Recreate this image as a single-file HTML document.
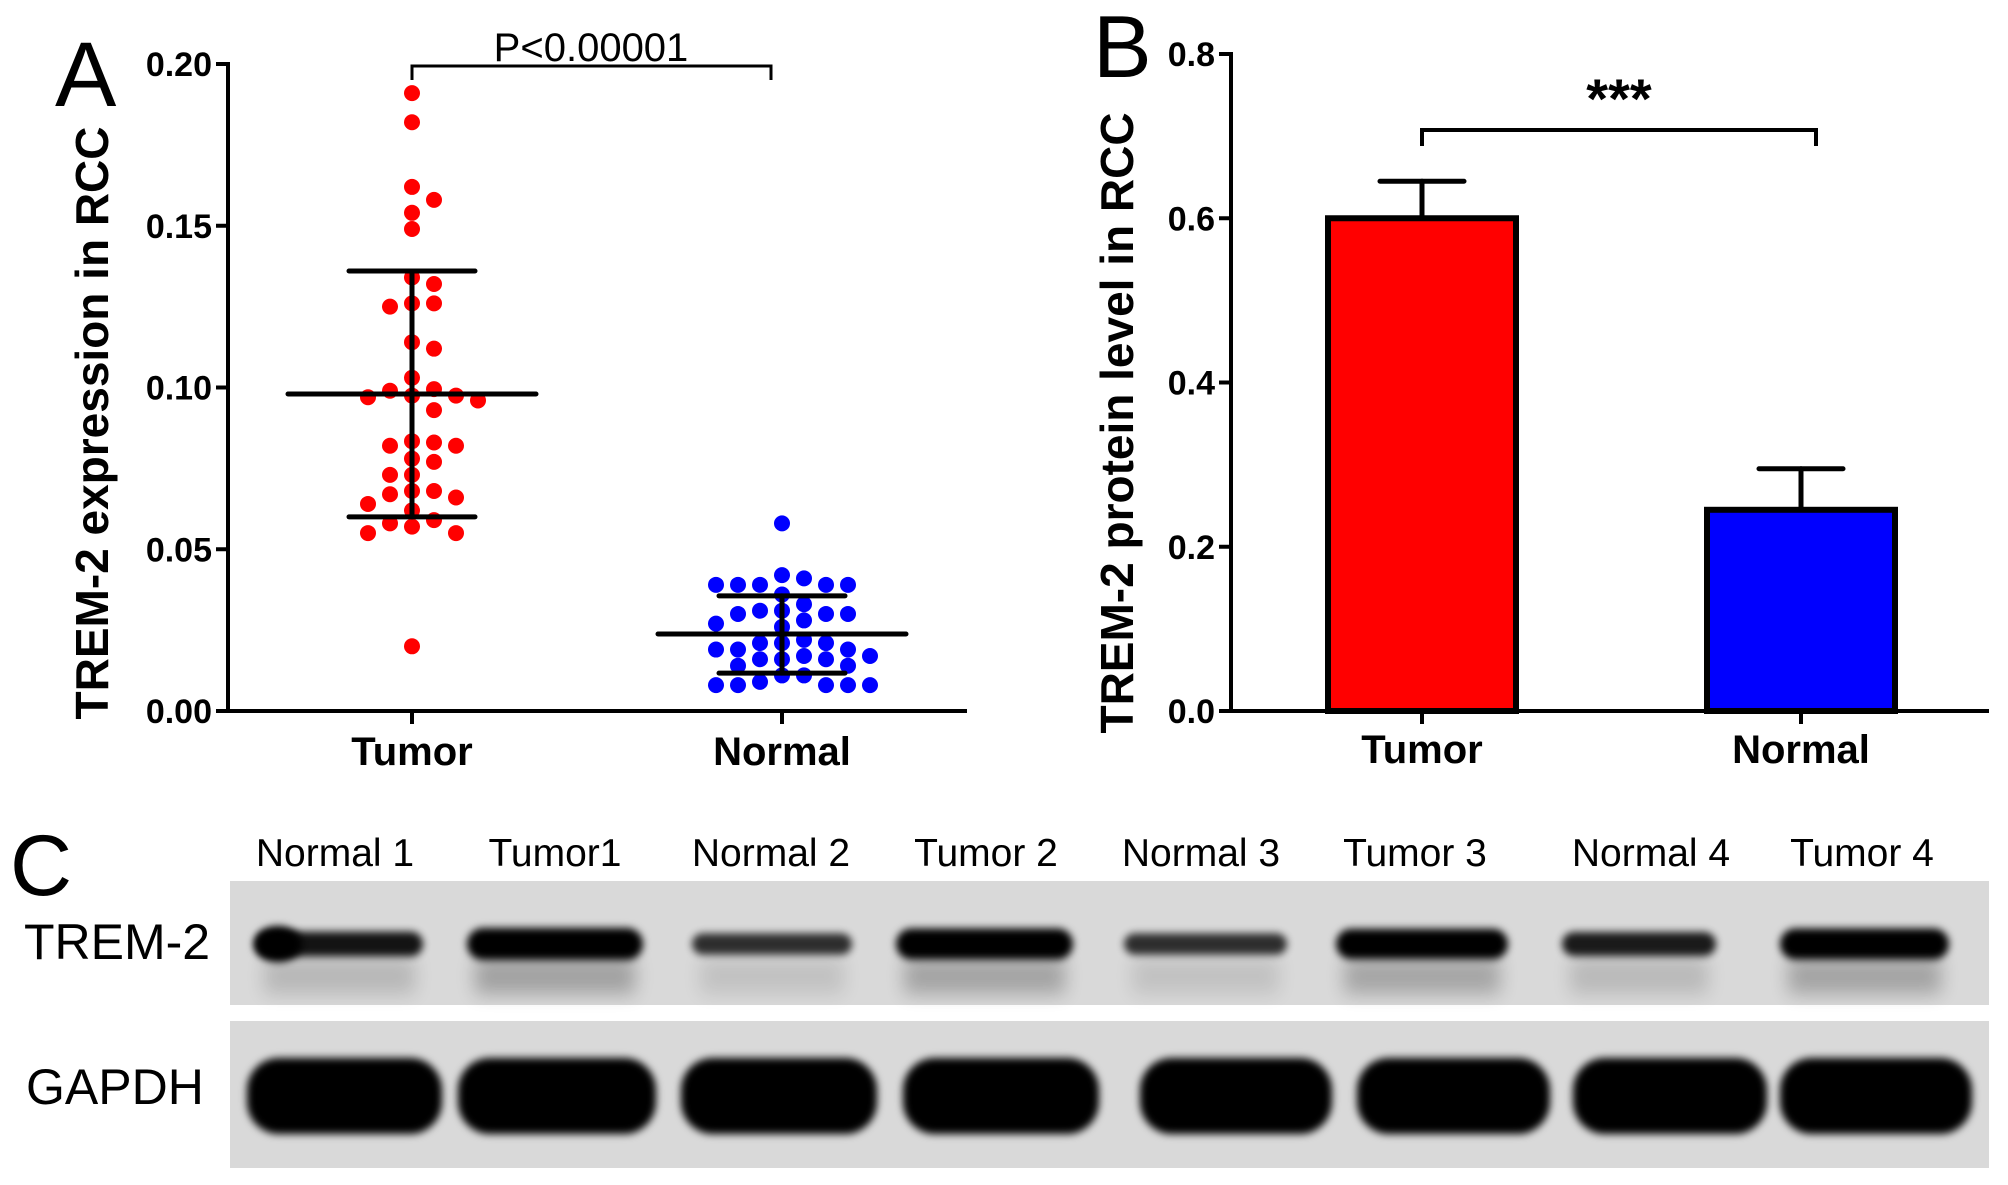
<!DOCTYPE html>
<html><head><meta charset="utf-8"><style>
html,body{margin:0;padding:0;background:#fff}
svg{display:block}
text{font-family:"Liberation Sans",Arial,sans-serif}
</style></head><body>
<svg id="fig" width="2008" height="1185" viewBox="0 0 2008 1185" xmlns="http://www.w3.org/2000/svg">
<defs>
<filter id="blur4" x="-20%" y="-50%" width="140%" height="200%"><feGaussianBlur stdDeviation="4"/></filter>
<filter id="blur9" x="-20%" y="-80%" width="140%" height="260%"><feGaussianBlur stdDeviation="9"/></filter>
</defs>
<g id="panelA"></g>
<g id="panelB"></g>
<g id="panelC"></g>
</svg>
<script>
// ---------- Panel A data ----------
const aCategories = ["Tumor", "Normal"];
const aTicks = [0, 0.05, 0.10, 0.15, 0.20];
const aTickLabels = ["0.00", "0.05", "0.10", "0.15", "0.20"];
const tumorValues = [0.191,0.182,0.162,0.158,0.154,0.149,0.134,0.132,0.126,0.126,0.125,0.114,0.112,0.103,0.0995,0.099,0.0975,0.0975,0.097,0.096,0.093,0.0834,0.083,0.082,0.082,0.078,0.077,0.073,0.073,0.068,0.068,0.067,0.066,0.064,0.062,0.059,0.058,0.057,0.055,0.055,0.020];
const normalValues = [0.058,0.042,0.041,0.039,0.039,0.039,0.039,0.039,0.036,0.033,0.031,0.031,0.030,0.030,0.030,0.028,0.027,0.026,0.022,0.021,0.021,0.021,0.019,0.019,0.019,0.017,0.017,0.016,0.016,0.016,0.014,0.014,0.011,0.011,0.009,0.008,0.008,0.008,0.008,0.008];
const aMeans = [0.098, 0.0238];
const aSDhigh = [0.136, 0.0356];
const aSDlow = [0.060, 0.0117];
const aPText = "P<0.00001";

// ---------- Panel B data ----------
const bCategories = ["Tumor", "Normal"];
const bValues = [0.60, 0.245];
const bErrTop = [0.645, 0.295];
const bTicks = [0, 0.2, 0.4, 0.6, 0.8];
const bTickLabels = ["0.0", "0.2", "0.4", "0.6", "0.8"];

// ---------- Panel C data ----------
const laneLabels = ["Normal 1","Tumor1","Normal 2","Tumor 2","Normal 3","Tumor 3","Normal 4","Tumor 4"];
const tremIntensity = [0.6, 1.0, 0.4, 0.95, 0.4, 0.9, 0.55, 0.95];
const gapdhIntensity = [1,1,1,1,1,1,1,1];

const NS = "http://www.w3.org/2000/svg";
function mk(parent, tag, attrs, txt){
  const e = document.createElementNS(NS, tag);
  for (const k in attrs) e.setAttribute(k, attrs[k]);
  if (txt !== undefined) e.textContent = txt;
  parent.appendChild(e);
  return e;
}

// ================= Panel A =================
(function(){
  const g = document.getElementById('panelA');
  const x0 = 228, x1 = 967, yBase = 711, yTop = 64;
  const y = v => yBase - (v / 0.20) * (yBase - yTop);
  const xc = [412, 782];
  const L = mk(g,'text',{x:55,y:106,'font-size':92});
  L.textContent = "A";
  
  
  const ya = mk(g,'line',{x1:x0,y1:yTop-2,x2:x0,y2:yBase+2,stroke:'#000','stroke-width':4});
  
  
  const xa = mk(g,'line',{x1:x0-2,y1:yBase,x2:x1,y2:yBase,stroke:'#000','stroke-width':4});
  
  
  aTicks.forEach((t,i)=>{
    mk(g,'line',{x1:x0-12,y1:y(t),x2:x0,y2:y(t),stroke:'#000','stroke-width':4});
    const tl = mk(g,'text',{x:x0-16,y:y(t)+12,'font-size':34,'font-weight':'bold','text-anchor':'end'}, aTickLabels[i]);
    
    
  });
  const yl = mk(g,'text',{transform:'translate(108,423) rotate(-90)','font-size':46,'font-weight':'bold','text-anchor':'middle'},"TREM-2 expression in RCC");
  
  
  aCategories.forEach((c,i)=>{
    mk(g,'line',{x1:xc[i],y1:yBase,x2:xc[i],y2:yBase+13,stroke:'#000','stroke-width':4});
    const cl = mk(g,'text',{x:xc[i],y:765,'font-size':40,'font-weight':'bold','text-anchor':'middle'},c);
    
    
  });
  // beeswarm
  const series = [tumorValues, normalValues], colors = ['#ff0000','#0000ff'];
  const r = 8, step = 22;
  series.forEach((vals,si)=>{
    const placed = [];
    const sorted = vals.slice().sort((a,b)=>b-a);
    sorted.forEach(v=>{
      const py = y(v);
      let k = 0, off = 0;
      while (true){
        off = (k===0)?0:(k%2?1:-1)*Math.ceil(k/2)*step;
        const px = xc[si] + off;
        if (!placed.some(p=>Math.abs(p[0]-px)<18 && Math.abs(p[1]-py)<16)) break;
        k++;
      }
      placed.push([xc[si]+off, py]);
      const d = mk(g,'circle',{cx:xc[si]+off,cy:py,r:r,fill:colors[si]});
      
      
    });
  });
  // mean / SD
  aCategories.forEach((c,i)=>{
    const eg = mk(g,'g',{stroke:'#000','stroke-width':5,'stroke-linecap':'round'});
    
    
    mk(eg,'line',{x1:xc[i]-124,y1:y(aMeans[i]),x2:xc[i]+124,y2:y(aMeans[i])});
    mk(eg,'line',{x1:xc[i],y1:y(aSDhigh[i]),x2:xc[i],y2:y(aSDlow[i])});
    mk(eg,'line',{x1:xc[i]-63,y1:y(aSDhigh[i]),x2:xc[i]+63,y2:y(aSDhigh[i])});
    mk(eg,'line',{x1:xc[i]-63,y1:y(aSDlow[i]),x2:xc[i]+63,y2:y(aSDlow[i])});
  });
  const br = mk(g,'path',{d:`M${xc[0]},80 V66 H771 V80`,fill:'none',stroke:'#000','stroke-width':3});
  
  
  const pt = mk(g,'text',{x:591,y:61,'font-size':40,'text-anchor':'middle'},aPText);
  
  
})();

// ================= Panel B =================
(function(){
  const g = document.getElementById('panelB');
  const x0 = 1231, x1 = 1989, yBase = 711, yTop = 54;
  const y = v => yBase - (v/0.8)*(yBase-yTop);
  const xc = [1422, 1801], hw = 94;
  const L = mk(g,'text',{x:1093,y:77,'font-size':88},"B");
  
  
  bCategories.forEach((c,i)=>{
    const eb = mk(g,'g',{stroke:'#000','stroke-width':5,'stroke-linecap':'round'});
    
    
    mk(eb,'line',{x1:xc[i],y1:y(bValues[i]),x2:xc[i],y2:y(bErrTop[i])});
    mk(eb,'line',{x1:xc[i]-42,y1:y(bErrTop[i]),x2:xc[i]+42,y2:y(bErrTop[i])});
    const b = mk(g,'rect',{x:xc[i]-hw,y:y(bValues[i]),width:hw*2,height:yBase-y(bValues[i]),fill:i?'#0000ff':'#ff0000',stroke:'#000','stroke-width':6});
    
    
  });
  const ya = mk(g,'line',{x1:x0,y1:yTop-2,x2:x0,y2:yBase+2,stroke:'#000','stroke-width':4});
  
  
  const xa = mk(g,'line',{x1:x0-2,y1:yBase,x2:x1,y2:yBase,stroke:'#000','stroke-width':4});
  
  
  bTicks.forEach((t,i)=>{
    mk(g,'line',{x1:x0-12,y1:y(t),x2:x0,y2:y(t),stroke:'#000','stroke-width':4});
    const tl = mk(g,'text',{x:x0-16,y:y(t)+12,'font-size':34,'font-weight':'bold','text-anchor':'end'},bTickLabels[i]);
    
    
  });
  const yl = mk(g,'text',{transform:'translate(1133,423) rotate(-90)','font-size':46,'font-weight':'bold','text-anchor':'middle'},"TREM-2 protein level in RCC");
  
  
  bCategories.forEach((c,i)=>{
    mk(g,'line',{x1:xc[i],y1:yBase,x2:xc[i],y2:yBase+13,stroke:'#000','stroke-width':4});
    const cl = mk(g,'text',{x:xc[i],y:763,'font-size':40,'font-weight':'bold','text-anchor':'middle'},c);
    
    
  });
  const br = mk(g,'path',{d:`M${xc[0]},146 V130 H1816 V146`,fill:'none',stroke:'#000','stroke-width':4});
  
  
  const st = mk(g,'text',{x:1619,y:118,'font-size':56,'font-weight':'bold','text-anchor':'middle'},"***");
  
  
})();

// ================= Panel C =================
(function(){
  const g = document.getElementById('panelC');
  const laneCx = [335, 555, 771, 986, 1201, 1415, 1651, 1862];
  const gapdhX = [[247,442],[458,656],[681,877],[903,1099],[1140,1332],[1357,1550],[1573,1767],[1780,1972]];
  const tremX = [[256,423],[467,643],[692,852],[896,1073],[1124,1287],[1336,1508],[1562,1716],[1780,1949]];
  const C = mk(g,'text',{x:10,y:895,'font-size':86},"C");
  
  
  laneLabels.forEach((t,i)=>{
    const l = mk(g,'text',{x:laneCx[i],y:866,'font-size':39,'text-anchor':'middle'},t);
    
    
  });
  const m1 = mk(g,'rect',{x:230,y:881,width:1759,height:124,fill:'#d9d9d9'});
  
  
  const m2 = mk(g,'rect',{x:230,y:1021,width:1759,height:147,fill:'#d9d9d9'});
  
  
  const t1 = mk(g,'text',{x:24,y:959,'font-size':50},"TREM-2");
  
  
  const t2 = mk(g,'text',{x:26,y:1104,'font-size':50},"GAPDH");
  
  
  tremIntensity.forEach((v,i)=>{
    const [a,b] = tremX[i];
    const bg = mk(g,'g',{});
    
    
    mk(bg,'rect',{x:a+8,y:958,width:b-a-16,height:36,fill:'#000',opacity:(v*0.25).toFixed(2),filter:'url(#blur9)'});
    const h = 14 + v*18;
    mk(bg,'rect',{x:a,y:944-h/2,width:b-a,height:h,rx:h/2,fill:'#000',opacity:Math.min(1,0.55+v*0.6).toFixed(2),filter:'url(#blur4)'});
    if (i===0) mk(bg,'ellipse',{cx:a+22,cy:944,rx:24,ry:18,fill:'#000',filter:'url(#blur4)'});
  });
  gapdhIntensity.forEach((v,i)=>{
    const [a,b] = gapdhX[i];
    const r = mk(g,'rect',{x:a,y:1058,width:b-a,height:76*v,rx:32,fill:'#000',filter:'url(#blur4)'});
    
    
  });
})();
</script>
</body></html>
